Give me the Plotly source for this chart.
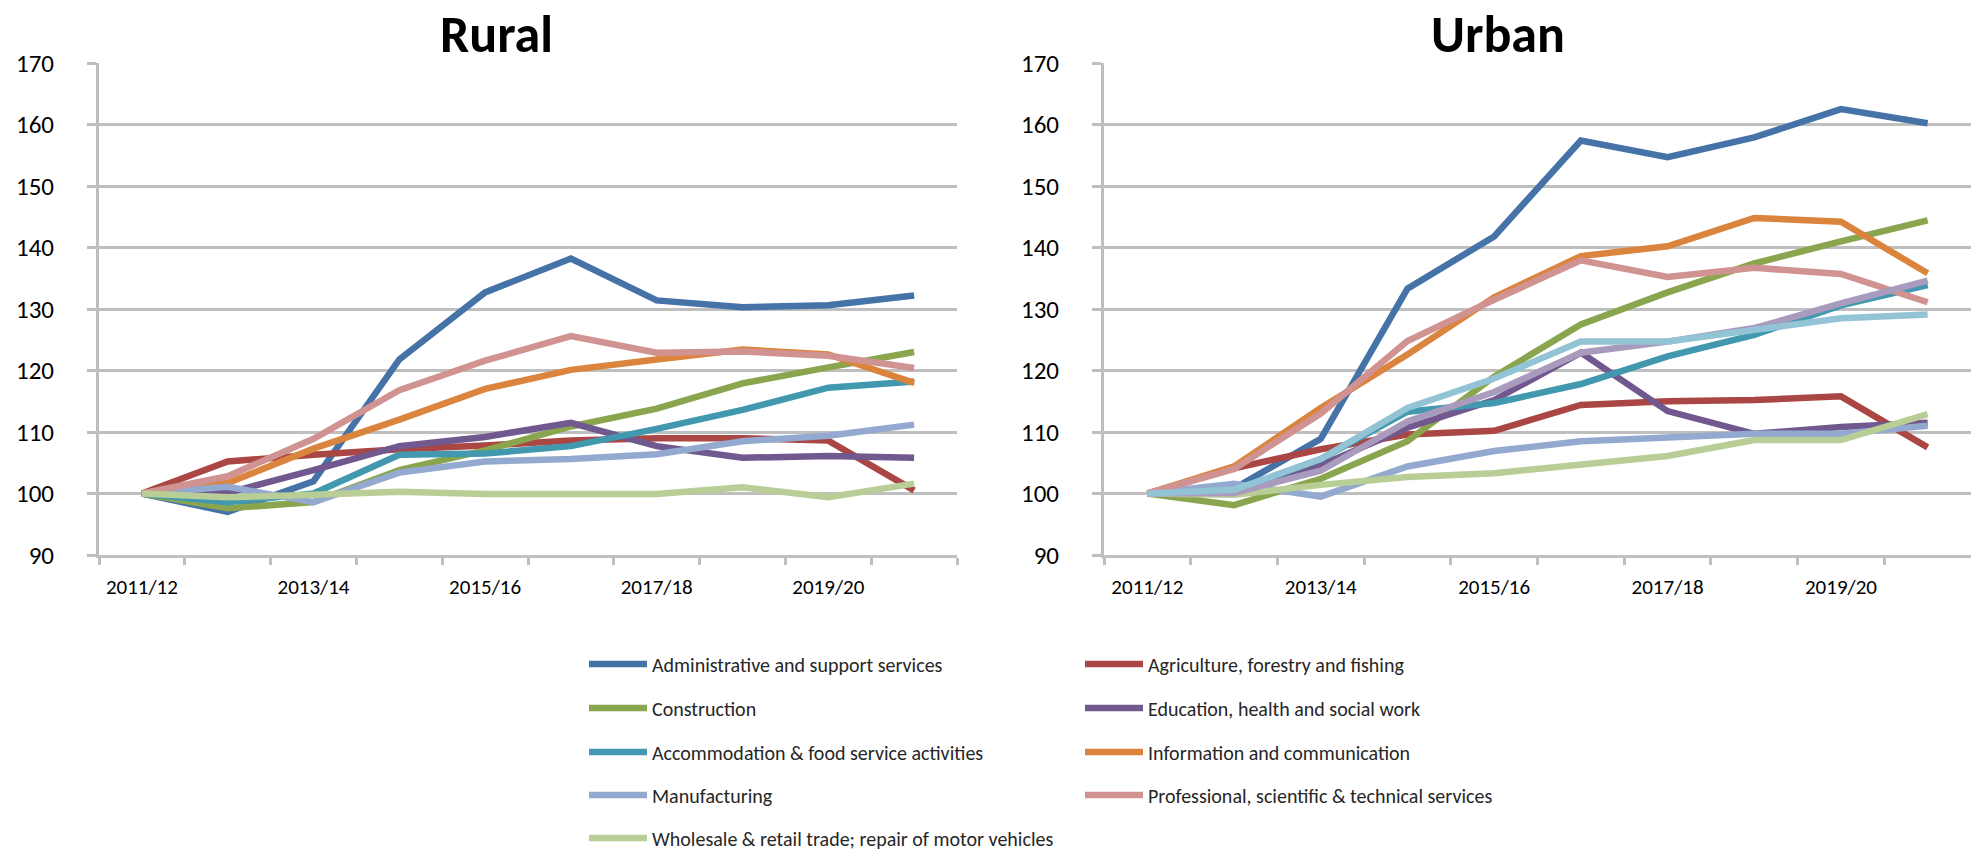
import plotly.graph_objects as go

years = ["2011/12", "2012/13", "2013/14", "2014/15", "2015/16",
         "2016/17", "2017/18", "2018/19", "2019/20", "2020/21"]

sectors = [
    "Administrative and support services",
    "Agriculture, forestry and fishing",
    "Construction",
    "Education, health and social work",
    "Accommodation & food service activities",
    "Information and communication",
    "Manufacturing",
    "Professional, scientific & technical services",
    "Wholesale & retail trade; repair of motor vehicles",
]

colors = ["#4572A7", "#AA4643", "#89A54E", "#71588F", "#4198AF",
          "#DB843D", "#93A9CF", "#D19392", "#B9CD96"]
extra_colors = ["#A99BBD", "#92C4D6"]

rural_admin = [100, 97.0, 102.0, 121.8, 132.7, 138.2, 131.4, 130.3, 130.6, 132.2]
rural_agri = [100, 105.2, 106.3, 107.2, 107.8, 108.6, 109.0, 109.0, 108.6, 100.5]
rural_constr = [100, 97.6, 98.6, 103.8, 107.0, 110.9, 113.8, 117.9, 120.5, 123.0]
rural_edu = [100, 100.1, 103.8, 107.7, 109.2, 111.5, 107.7, 105.8, 106.1, 105.8]
rural_accom = [100, 98.6, 100.0, 106.3, 106.5, 107.7, 110.5, 113.6, 117.2, 118.2]
rural_info = [100, 101.7, 107.3, 112.0, 117.0, 120.1, 121.8, 123.4, 122.6, 118.0]
rural_manuf = [100, 101.1, 98.6, 103.4, 105.2, 105.6, 106.4, 108.5, 109.4, 111.2]
rural_prof = [100, 102.8, 108.9, 116.8, 121.6, 125.6, 122.9, 123.1, 122.4, 120.4]
rural_retail = [100, 99.4, 99.8, 100.3, 99.9, 99.9, 99.9, 101.0, 99.4, 101.6]

urban_admin = [100, 100.8, 108.9, 133.3, 141.8, 157.4, 154.7, 157.9, 162.5, 160.2]
urban_agri = [100, 104.1, 107.2, 109.6, 110.2, 114.4, 115.0, 115.2, 115.8, 107.5]
urban_constr = [100, 98.1, 102.4, 108.5, 119.0, 127.5, 132.7, 137.4, 141.0, 144.4]
urban_edu = [100, 100.1, 104.6, 110.7, 115.2, 122.9, 113.4, 109.7, 110.8, 111.5]
urban_accom = [100, 100.4, 105.6, 113.3, 114.7, 117.8, 122.3, 125.8, 130.6, 133.9]
urban_info = [100, 104.4, 113.9, 122.6, 131.9, 138.6, 140.2, 144.8, 144.2, 135.8]
urban_manuf = [100, 101.6, 99.5, 104.4, 106.9, 108.5, 109.1, 109.7, 109.7, 111.0]
urban_prof = [100, 104.0, 113.0, 124.8, 131.5, 137.9, 135.2, 136.7, 135.7, 131.1]
urban_retail = [100, 99.8, 101.4, 102.7, 103.3, 104.6, 106.1, 108.7, 108.7, 112.9]
urban_extra_1 = [100, 100.1, 103.7, 111.7, 116.5, 122.9, 124.7, 126.9, 130.9, 134.6]
urban_extra_2 = [100, 100.6, 105.6, 113.9, 118.7, 124.7, 124.7, 126.7, 128.5, 129.1]

rural = [rural_admin, rural_agri, rural_constr, rural_edu, rural_accom,
         rural_info, rural_manuf, rural_prof, rural_retail]
urban = [urban_admin, urban_agri, urban_constr, urban_edu, urban_accom,
         urban_info, urban_manuf, urban_prof, urban_retail]
urban_extra = [urban_extra_1, urban_extra_2]
urban_extra_names = ["Other series A", "Other series B"]

W, H = 1972, 851
FONT = "Carlito, Lato, 'Liberation Sans', sans-serif"
LW = 6.5

fig = go.Figure()

for i, name in enumerate(sectors):
    lg = "legend" if i == 0 else f"legend{i + 1}"
    fig.add_trace(go.Scatter(
        x=years, y=rural[i], name=name, mode="lines",
        line=dict(color=colors[i], width=LW),
        xaxis="x", yaxis="y", legend=lg, showlegend=True))
for i, name in enumerate(sectors):
    fig.add_trace(go.Scatter(
        x=years, y=urban[i], name=name, mode="lines",
        line=dict(color=colors[i], width=LW),
        xaxis="x2", yaxis="y2", showlegend=False))
for j, name in enumerate(urban_extra_names):
    fig.add_trace(go.Scatter(
        x=years, y=urban_extra[j], name=name, mode="lines",
        line=dict(color=extra_colors[j], width=LW),
        xaxis="x2", yaxis="y2", showlegend=False))

GRID = "#BFBFBF"
y_dom = [(H - 555) / H, (H - 63) / H]

def xaxis(dom, anchor):
    return dict(
        domain=dom, anchor=anchor, type="category",
        tickmode="array", tickvals=years,
        ticktext=[y if k % 2 == 0 else "" for k, y in enumerate(years)],
        tickson="boundaries", ticks="outside", ticklen=7, tickwidth=3,
        tickcolor=GRID, showline=True, linecolor=GRID, linewidth=3,
        showgrid=False, ticklabelstandoff=11,
        tickfont=dict(family=FONT, size=21, color="#000000"),
        range=[-0.5, 9.5], fixedrange=True)

def yaxis(anchor):
    return dict(
        domain=y_dom, anchor=anchor, range=[90, 170], dtick=10,
        tick0=90, showgrid=True, gridcolor=GRID, gridwidth=3,
        showline=True, linecolor=GRID, linewidth=3, ticks="outside",
        ticklen=9, tickwidth=3, tickcolor=GRID, zeroline=False,
        ticklabelstandoff=28,
        tickfont=dict(family=FONT, size=25, color="#000000"))

layout = dict(
    width=W, height=H,
    margin=dict(l=0, r=0, t=0, b=0, autoexpand=False),
    paper_bgcolor="white", plot_bgcolor="white",
    xaxis=xaxis([99 / W, 957 / W], "y"),
    yaxis=yaxis("x"),
    xaxis2=xaxis([1104 / W, 1971 / W], "y2"),
    yaxis2=yaxis("x2"),
    annotations=[
        dict(text="<b>Rural</b>", x=496 / W, y=1, xref="paper",
             yref="paper", showarrow=False, xanchor="center", yanchor="top",
             font=dict(family=FONT, size=52, color="#000000")),
        dict(text="<b>Urban</b>", x=1498 / W, y=1, xref="paper",
             yref="paper", showarrow=False, xanchor="center", yanchor="top",
             font=dict(family=FONT, size=52, color="#000000")),
    ],
)

col_x = [584, 1080]
row_y = [664, 708, 752, 795, 838]
for i in range(len(sectors)):
    key = "legend" if i == 0 else f"legend{i + 1}"
    layout[key] = dict(
        x=col_x[i % 2] / W, y=1 - row_y[i // 2] / H,
        xanchor="left", yanchor="middle", orientation="v",
        bgcolor="rgba(0,0,0,0)", borderwidth=0, itemwidth=58,
        font=dict(family=FONT, size=20, color="#262626"))

fig.update_layout(**layout)
fig.write_html(
    "out.html",
    config={"displayModeBar": False},
    post_script="document.body.style.margin='0';document.body.style.padding='0';")
